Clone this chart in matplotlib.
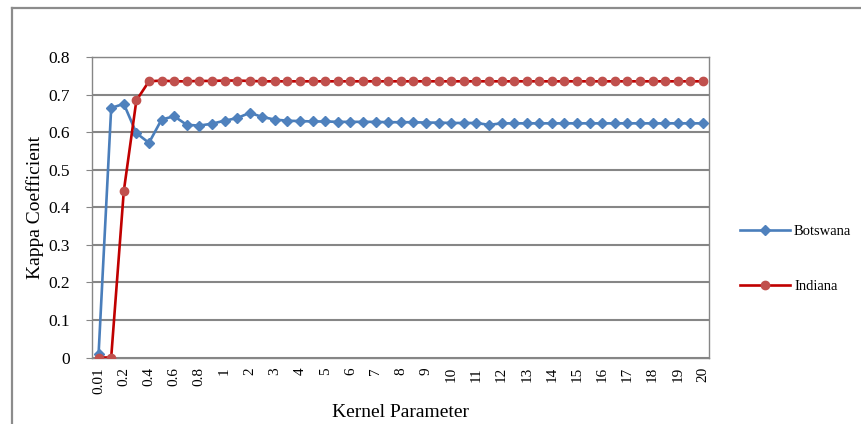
import numpy as np
import matplotlib
matplotlib.use('Agg')
import matplotlib.pyplot as plt
from matplotlib.lines import Line2D

# kernel parameter categories (equally spaced on a category axis)
params = ['0.01', '0.1', '0.2', '0.3', '0.4', '0.5', '0.6', '0.7', '0.8', '0.9', '1',
          '1.5', '2', '2.5', '3', '3.5', '4', '4.5', '5', '5.5', '6', '6.5', '7', '7.5',
          '8', '8.5', '9', '9.5', '10', '10.5', '11', '11.5', '12', '12.5', '13', '13.5',
          '14', '14.5', '15', '15.5', '16', '16.5', '17', '17.5', '18', '18.5', '19',
          '19.5', '20']
tick_labels = ['0.01', '0.2', '0.4', '0.6', '0.8', '1'] + [str(i) for i in range(2, 21)]

botswana = [0.01, 0.665, 0.676, 0.598, 0.572, 0.634, 0.643, 0.62, 0.618, 0.623, 0.631,
            0.638, 0.652, 0.641, 0.634, 0.631, 0.630, 0.629, 0.629, 0.628, 0.628, 0.628,
            0.628, 0.627, 0.627, 0.627, 0.626, 0.626, 0.625, 0.625, 0.625, 0.620, 0.624,
            0.624, 0.624, 0.624, 0.624, 0.624, 0.624, 0.624, 0.624, 0.624, 0.624, 0.624,
            0.624, 0.624, 0.624, 0.624, 0.624]
indiana = [0.0, 0.0, 0.443, 0.685, 0.736, 0.738, 0.736, 0.736, 0.737, 0.737, 0.738,
           0.738, 0.737, 0.736, 0.736, 0.736, 0.736, 0.736, 0.736, 0.736, 0.736, 0.736,
           0.736, 0.736, 0.736, 0.736, 0.736, 0.736, 0.736, 0.736, 0.736, 0.736, 0.736,
           0.736, 0.736, 0.736, 0.736, 0.736, 0.736, 0.736, 0.736, 0.736, 0.736, 0.736,
           0.736, 0.736, 0.736, 0.736, 0.736]

plt.rcParams['font.family'] = ['Liberation Serif', 'DejaVu Serif']

fig = plt.figure(figsize=(8.62, 4.24), dpi=100)
ax = fig.add_axes([92.3/862, 1-357.5/424, 617/862, 300.2/424])

x = np.arange(len(params))
ax.plot(x, botswana, color='#4A7EBB', lw=1.9, marker='D', ms=5.5,
        mfc='#4F81BD', mec='#4F81BD', label='Botswana', zorder=3)
ax.plot(x, indiana, color='#C00000', lw=1.9, marker='o', ms=6,
        mfc='#C0504D', mec='#C0504D', label='Indiana', zorder=3)

ax.set_xlim(-0.5, len(params) - 0.5)
ax.set_ylim(0, 0.8)
ax.set_yticks(np.arange(0, 0.81, 0.1))
ax.set_yticklabels(['0'] + ['%.1f' % v for v in np.arange(0.1, 0.81, 0.1)], fontsize=12.5)
ax.set_xticks(x[::2])
ax.set_xticklabels(tick_labels, rotation=90, fontsize=11)
ax.tick_params(axis='x', length=0, pad=7)
ax.tick_params(axis='y', length=4, color='#868686', pad=12)
ax.yaxis.grid(True, color='#868686', lw=1.5)
ax.set_axisbelow(True)
for s in ax.spines.values():
    s.set_color('#868686')
    s.set_linewidth(1.0)

ax.set_xlabel('Kernel Parameter', fontsize=14, labelpad=7)
ax.set_ylabel('Kappa Coefficient', fontsize=14, labelpad=3)

fig.legend(loc='center left', bbox_to_anchor=(727/862, 1-259/424), frameon=False,
           fontsize=10.5, labelspacing=2.9, handlelength=3.4, handletextpad=0.3)

# outer chart border
fig.add_artist(Line2D([12.5/862, 1], [1-7.5/424, 1-7.5/424], color='#8C8C8C', lw=1.6))
fig.add_artist(Line2D([12.5/862, 12.5/862], [0, 1-7.5/424], color='#8C8C8C', lw=1.6))

fig.savefig('out.png', dpi=100)
